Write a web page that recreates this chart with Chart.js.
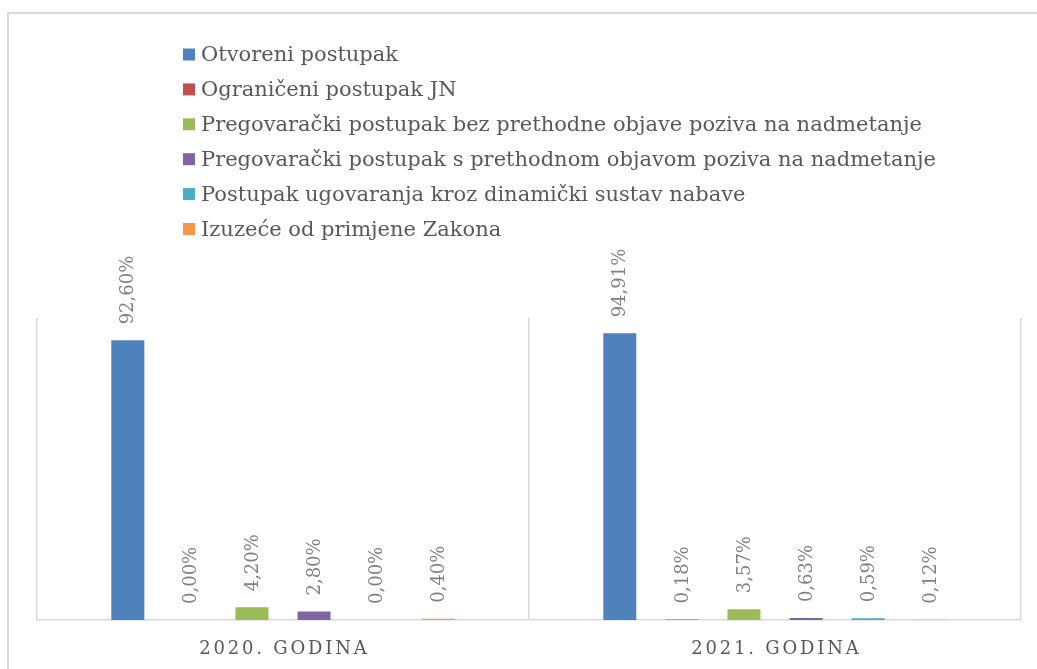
<!DOCTYPE html>
<html>
<head>
<meta charset="utf-8">
<script src="https://cdn.jsdelivr.net/npm/chart.js@4/dist/chart.umd.min.js"></script>
<style>
  html, body { margin: 0; padding: 0; background: #ffffff; overflow: hidden; }
  #wrap { position: relative; width: 1037px; height: 669px; overflow: hidden; }
  #frame { position: absolute; left: 7px; top: 12px; width: 1200px; height: 900px; border: 2px solid #d9d9d9; box-sizing: border-box; }
  canvas { position: absolute; left: 0; top: 0; }
</style>
</head>
<body>
<div id="wrap">
  <div id="frame"></div>
  <canvas id="c" width="1037" height="669"></canvas>
</div>
<script>
const categories = ['2020. GODINA', '2021. GODINA'];
const seriesNames = [
  'Otvoreni postupak',
  'Ograničeni postupak JN',
  'Pregovarački postupak bez prethodne objave poziva na nadmetanje',
  'Pregovarački postupak s prethodnom objavom poziva na nadmetanje',
  'Postupak ugovaranja kroz dinamički sustav nabave',
  'Izuzeće od primjene Zakona'
];
const otvoreni = [92.60, 94.91];
const ograniceni = [0.00, 0.18];
const pregovarackiBez = [4.20, 3.57];
const pregovarackiS = [2.80, 0.63];
const dinamicki = [0.00, 0.59];
const izuzece = [0.40, 0.12];
const seriesColors = ['#4f81bd', '#c0504d', '#9bbb59', '#8064a2', '#4bacc6', '#f79646'];

const seriesValues = [otvoreni, ograniceni, pregovarackiBez, pregovarackiS, dinamicki, izuzece];

const datasets = seriesNames.map((name, i) => ({
  label: name,
  data: seriesValues[i],
  backgroundColor: seriesColors[i],
  borderWidth: 0,
  categoryPercentage: 0.757,
  barPercentage: 0.532
}));

const SERIF = '"DejaVu Serif", "Liberation Serif", serif';

const customDraw = {
  id: 'customDraw',
  afterDatasetsDraw(chart) {
    const ctx = chart.ctx;
    ctx.save();
    ctx.font = '18px ' + SERIF;
    ctx.fillStyle = '#808080';
    ctx.textAlign = 'left';
    ctx.textBaseline = 'middle';
    chart.data.datasets.forEach((ds, di) => {
      const meta = chart.getDatasetMeta(di);
      meta.data.forEach((el, idx) => {
        const v = ds.data[idx];
        const txt = v.toFixed(2).replace('.', ',') + '%';
        ctx.save();
        ctx.translate(el.x + 1, el.y - 16);
        ctx.rotate(-Math.PI / 2);
        ctx.fillText(txt, 0, 0);
        ctx.restore();
      });
    });
    ctx.restore();
  },
  afterDraw(chart) {
    const ctx = chart.ctx;
    // legend
    ctx.save();
    ctx.font = '21px ' + SERIF;
    ctx.textAlign = 'left';
    ctx.textBaseline = 'alphabetic';
    chart.data.datasets.forEach((ds, i) => {
      const base = 61 + i * 34.9;
      ctx.fillStyle = ds.backgroundColor;
      ctx.fillRect(183, base - 12.5, 12, 12);
      ctx.fillStyle = '#595959';
      ctx.fillText(ds.label, 201, base);
    });
    ctx.restore();
    // category labels
    const xs = chart.scales.x;
    ctx.save();
    ctx.font = '18px ' + SERIF;
    ctx.fillStyle = '#595959';
    ctx.textAlign = 'center';
    ctx.textBaseline = 'alphabetic';
    const ls = 2.8;
    if ('letterSpacing' in ctx) ctx.letterSpacing = ls + 'px';
    chart.data.labels.forEach((lab, i) => {
      ctx.fillText(lab, xs.getPixelForValue(i) + ls / 2, 654);
    });
    ctx.restore();
  }
};

new Chart(document.getElementById('c'), {
  type: 'bar',
  data: { labels: categories, datasets },
  options: {
    responsive: false,
    animation: false,
    devicePixelRatio: 1,
    layout: { padding: { left: 37, right: 16, top: 318, bottom: 49 } },
    plugins: { legend: { display: false }, tooltip: { enabled: false } },
    scales: {
      x: {
        type: 'category',
        grid: { display: true, offset: true, drawTicks: false, color: '#d9d9d9', lineWidth: 1.5 },
        border: { display: true, color: '#d9d9d9', width: 1.5 },
        ticks: { display: false }
      },
      y: {
        display: false,
        min: 0,
        max: 100
      }
    }
  },
  plugins: [customDraw]
});
</script>
</body>
</html>
